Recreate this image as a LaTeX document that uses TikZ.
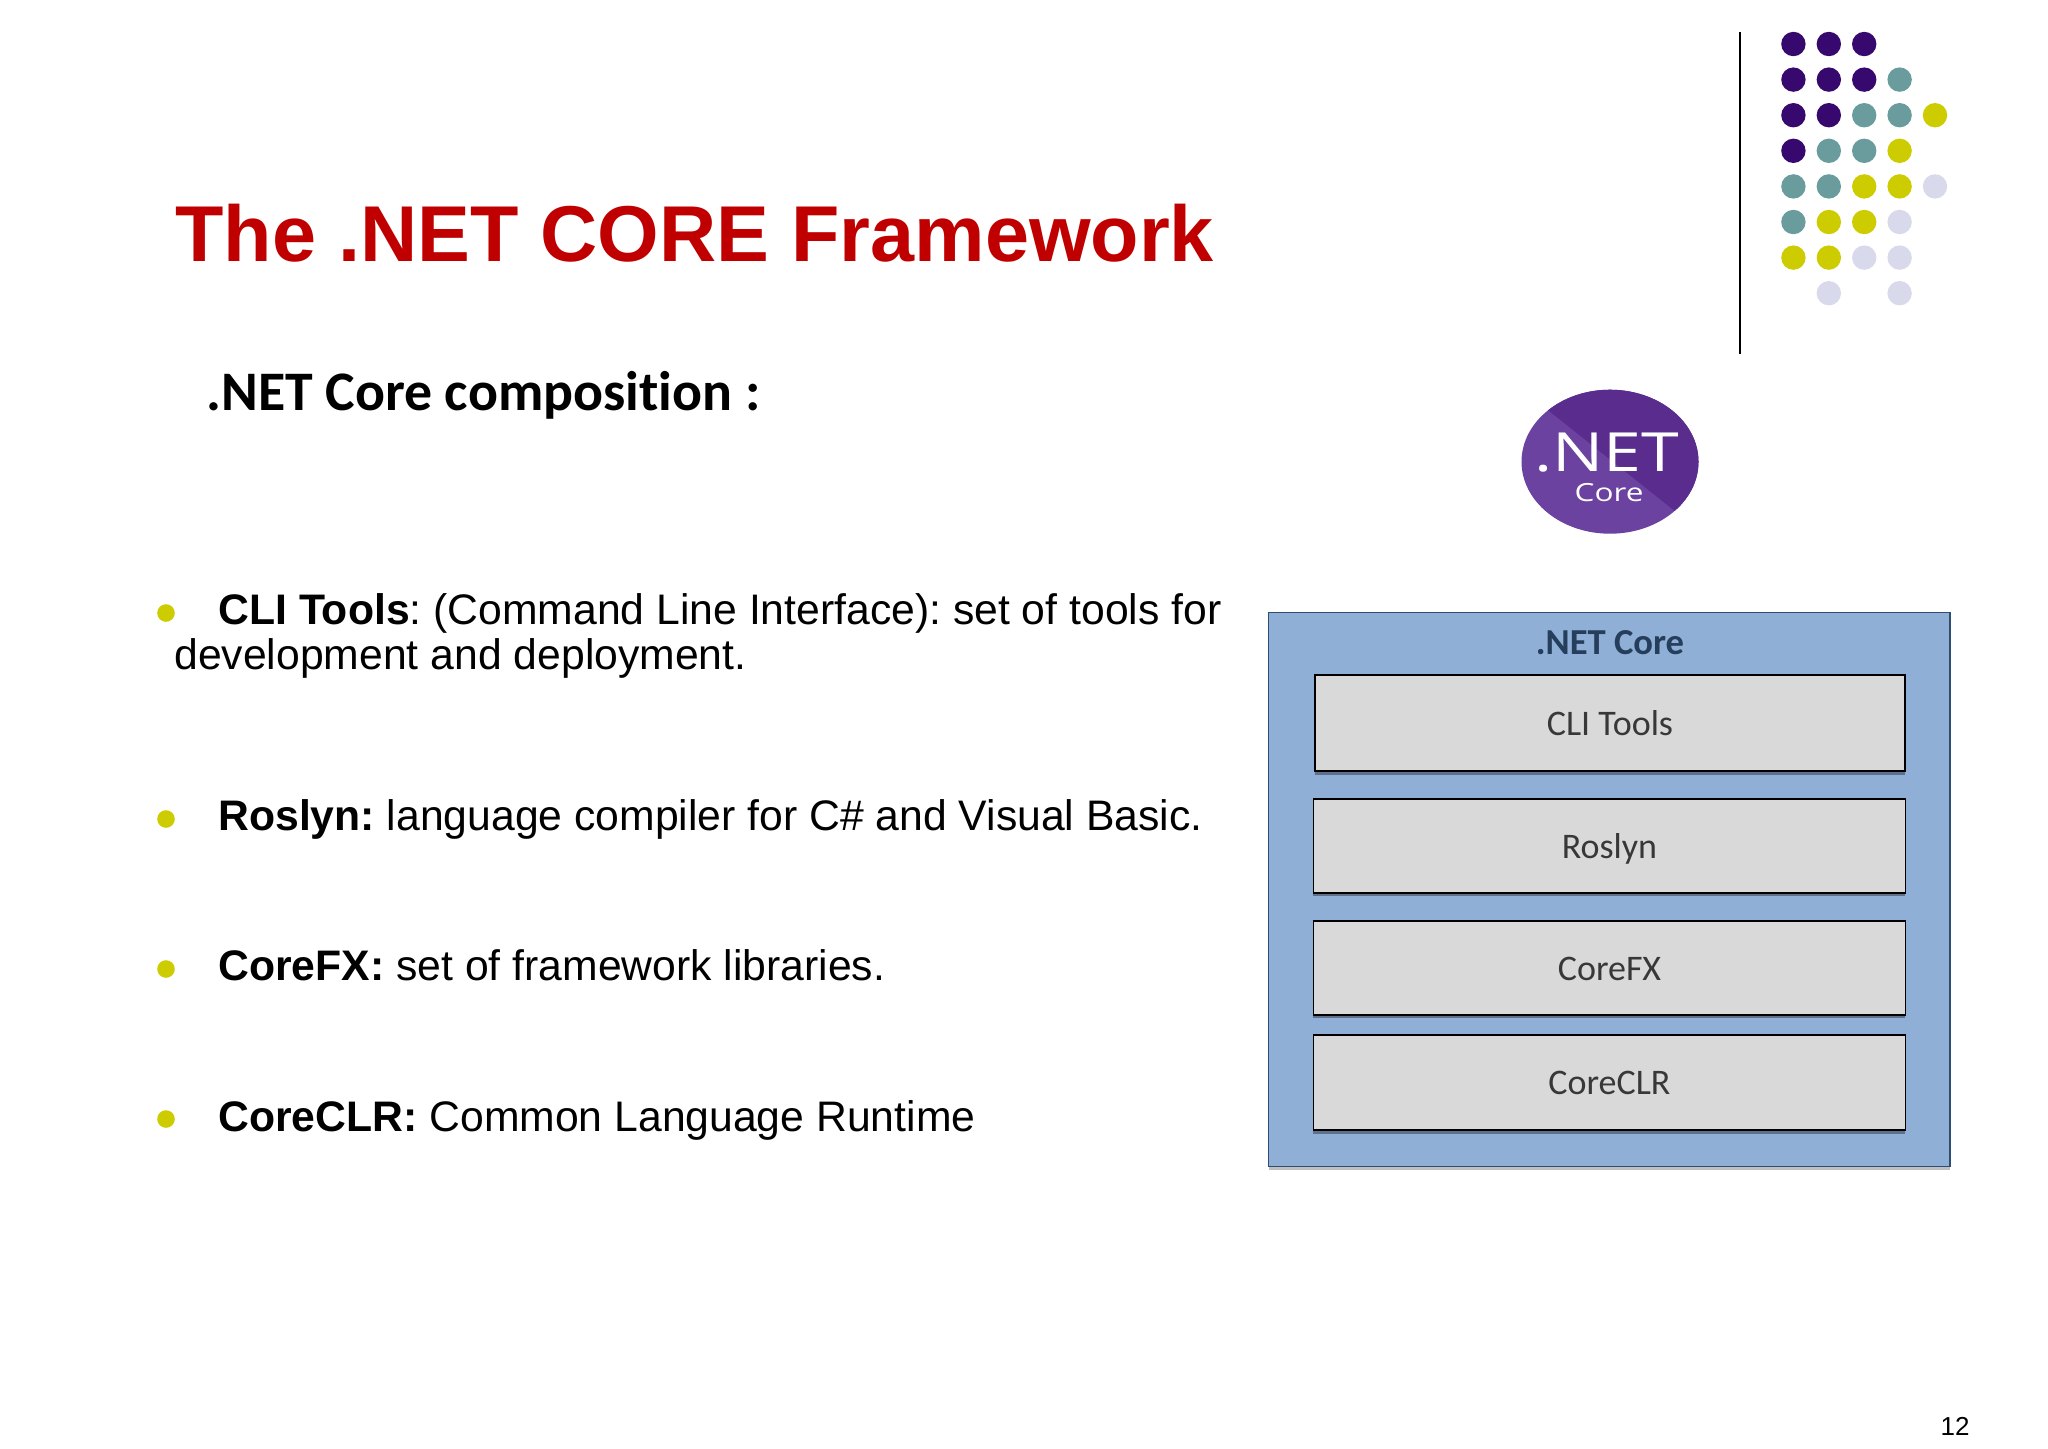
\documentclass[tikz,border=0pt]{standalone}
\usepackage{fontspec}
\usepackage[]{xcolor}
\usetikzlibrary{shadows}
\setmainfont{Liberation Sans}
\newfontfamily\carlito[Ligatures=NoCommon]{Carlito}
\newfontfamily\logofont[FakeStretch=1.26]{Open Sans}
\definecolor{titlered}{HTML}{C00000}
\definecolor{dotpurple}{HTML}{37086E}
\definecolor{dotteal}{HTML}{6A9C9E}
\definecolor{dotyellow}{HTML}{CCCC00}
\definecolor{dotlilac}{HTML}{D8DAEC}
\definecolor{logodark}{HTML}{5A2C8E}
\definecolor{logolight}{HTML}{6C42A0}
\definecolor{panelblue}{HTML}{8FAFD6}
\definecolor{paneledge}{HTML}{2F4D73}
\definecolor{layergray}{HTML}{D9D9D9}
\tikzset{
  bodytext/.style={anchor=base west,inner sep=0pt,font=\fontsize{21.35}{25}\selectfont\frenchspacing},
  bulletdot/.style={circle,fill=dotyellow,inner sep=0pt,minimum size=8.8pt},
  layerbox/.style={draw=black,line width=0.9pt,fill=layergray,inner sep=0pt,minimum width=296pt,
    text height=12pt,text depth=0pt,text=black!78,font=\carlito\fontsize{18}{20}\selectfont,
    drop shadow={shadow xshift=0pt,shadow yshift=-1.8pt,fill=black,opacity=0.35}},
}
\begin{document}
\begin{tikzpicture}[x=0.5pt,y=-0.5pt] % one unit is one pixel of the reference
  \useasboundingbox (0,0) rectangle (2048,1448);
  % title and heading
  \node[anchor=base west,inner sep=0pt,text=titlered,font=\fontsize{39.6}{46}\selectfont\bfseries] (title) at (175,261) {The .NET CORE Framework};
  \node[anchor=base west,inner sep=0pt,font=\carlito\fontsize{27.9}{32}\selectfont\bfseries] (heading) at (206,410) {.NET Core composition :};
  % rule and dots
  \coordinate (ruletop) at (1740,32);
  \coordinate (rulebot) at (1740,354);
  \draw[line width=1pt] (ruletop)--(rulebot);
  \foreach \i/\j in {1/1,2/1,3/1,1/2,2/2,3/2,1/3,2/3,1/4}
    \fill[dotpurple] ({1758+35.4*\i},{8.4+35.6*\j}) circle (12.2);
  \foreach \i/\j in {4/2,3/3,4/3,2/4,3/4,1/5,2/5,1/6}
    \fill[dotteal] ({1758+35.4*\i},{8.4+35.6*\j}) circle (12.2);
  \foreach \i/\j in {5/3,4/4,3/5,4/5,2/6,3/6,1/7,2/7}
    \fill[dotyellow] ({1758+35.4*\i},{8.4+35.6*\j}) circle (12.2);
  \foreach \i/\j in {5/5,4/6,3/7,4/7,2/8,4/8}
    \fill[dotlilac] ({1758+35.4*\i},{8.4+35.6*\j}) circle (12.2);
  % bullets
  \node[bulletdot] (b1) at (166,613) {};
  \node[bodytext] (cli) at (218,624) {\textbf{CLI Tools}: (Command Line Interface): set of tools for};
  \node[bodytext] (cli2) at (174,669) {development and deployment.};
  \node[bulletdot] (b2) at (166,819) {};
  \node[bodytext] (roslyn) at (218,830) {\textbf{Roslyn:} language compiler for C\# and Visual Basic.};
  \node[bulletdot] (b3) at (166,969) {};
  \node[bodytext] (corefx) at (218,980) {\textbf{CoreFX:} set of framework libraries.};
  \node[bulletdot] (b4) at (166,1119) {};
  \node[bodytext] (coreclr) at (218,1131) {\textbf{CoreCLR:} Common Language Runtime};
  % logo
  \begin{scope}
    \clip (1610,461.7) ellipse (88.5 and 72);
    \fill[logolight] (1500,380) rectangle (1720,550);
    \fill[logodark] (1510,380) -- (1700,531) -- (1720,378) -- cycle;
  \end{scope}
  \node[inner sep=0pt,text=white,font=\logofont\fontsize{27}{30}\selectfont] (logonet) at (1607,453) {.NET};
  \node[inner sep=0pt,text=white,font=\logofont\fontsize{12.5}{15}\selectfont] (logocore) at (1609,493) {Core};
  % panel
  \draw[draw=paneledge,line width=0.7pt,fill=panelblue,drop shadow={shadow xshift=0pt,shadow yshift=-1.5pt,fill=black,opacity=0.25}] (1268.6,612.5) rectangle (1950,1166.7);
  \node[inner sep=0pt,text=paneledge!80!black,font=\carlito\fontsize{18.3}{20}\selectfont\bfseries] (paneltitle) at (1610,643) {.NET Core};
  \node[layerbox,minimum height=48pt,minimum width=295.2pt] (clibox) at (1610,723) {CLI Tools};
  \node[layerbox,minimum height=46.7pt] (roslynbox) at (1609.4,846) {Roslyn};
  \node[layerbox,minimum height=46.8pt] (corefxbox) at (1609.4,968) {CoreFX};
  \node[layerbox,minimum height=47.6pt] (coreclrbox) at (1609.4,1082.3) {CoreCLR};
  % page number
  \node[anchor=base,inner sep=0pt,font=\fontsize{13}{15}\selectfont] (pagenum) at (1955,1435) {12};
\end{tikzpicture}
\end{document}
